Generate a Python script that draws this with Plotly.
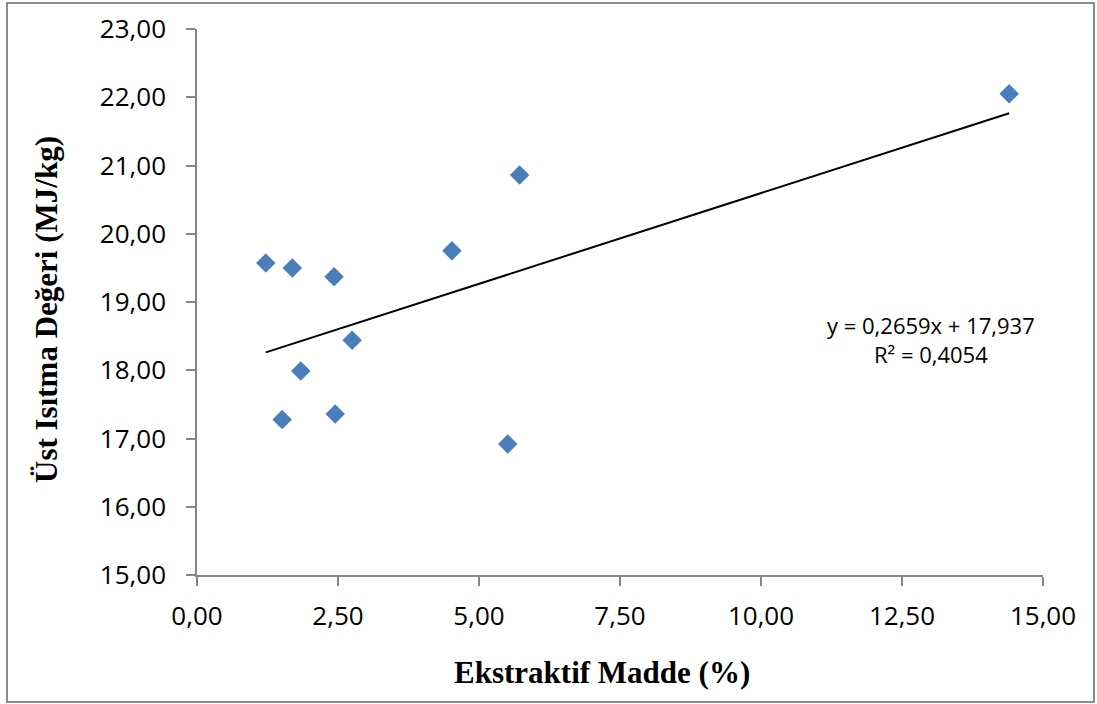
import plotly.graph_objects as go

# Data
ekstraktif = [1.22, 1.69, 2.43, 2.75, 1.84, 1.51, 2.45, 5.72, 4.52, 5.51, 14.40]
ust_isitma = [19.57, 19.50, 19.37, 18.44, 17.99, 17.28, 17.36, 20.86, 19.75, 16.92, 22.05]
trend_slope = 0.2659
trend_intercept = 17.937
r_squared = 0.4054
x_ticks = [0, 2.5, 5, 7.5, 10, 12.5, 15]
y_ticks = [15, 16, 17, 18, 19, 20, 21, 22, 23]

x_min, x_max = min(ekstraktif), max(ekstraktif)
trend_x = [x_min, x_max]
trend_y = [trend_slope * v + trend_intercept for v in trend_x]

fig = go.Figure()
fig.add_trace(go.Scatter(
    x=trend_x, y=trend_y, mode="lines",
    line=dict(color="black", width=2), hoverinfo="skip", showlegend=False))
fig.add_trace(go.Scatter(
    x=ekstraktif, y=ust_isitma, mode="markers",
    marker=dict(symbol="diamond", size=15, color="#4A7EBB",
                line=dict(width=0)),
    showlegend=False))

tick_font = dict(family="Open Sans, Noto Sans, sans-serif", size=26, color="black")
title_font = dict(family="Liberation Serif, Times New Roman, serif", size=31, color="black")

PW, PH = 846, 546  # plot area size in px

fig.update_layout(
    width=1097, height=704,
    margin=dict(l=197, r=54, t=29, b=129, autoexpand=False),
    paper_bgcolor="white", plot_bgcolor="white",
    separators=", ",
    xaxis=dict(range=[0, 15], tickvals=x_ticks, tickformat=".2f",
               showgrid=False, zeroline=False, showline=True,
               linecolor="#868686", linewidth=1.5, ticks="outside",
               ticklen=9, tickcolor="#868686", tickwidth=1.5,
               ticklabelstandoff=8, tickfont=tick_font),
    yaxis=dict(range=[15, 23], tickvals=y_ticks, tickformat=".2f",
               showgrid=False, zeroline=False, showline=True,
               linecolor="#868686", linewidth=1.5, ticks="outside",
               ticklen=9, tickcolor="#868686", tickwidth=1.5,
               ticklabelstandoff=15, tickfont=tick_font),
    shapes=[dict(type="rect", xref="paper", yref="paper",
                 x0=-190/PW, x1=1+51/PW, y0=-127/PH, y1=1+26/PH,
                 line=dict(color="#8c8c8c", width=2))],
    annotations=[
        dict(text="<b>Ekstraktif Madde (%)</b>", xref="paper", yref="paper",
             x=(602-197)/PW, y=-(672-575)/PH, showarrow=False,
             xanchor="center", yanchor="middle", font=title_font),
        dict(text="<b>Üst Isıtma Değeri (MJ/kg)</b>", xref="paper", yref="paper",
             x=-(197-46)/PW, y=(575-310)/PH, showarrow=False, textangle=-90,
             xanchor="center", yanchor="middle", font=title_font),
        dict(text=f"y = {str(trend_slope).replace('.', ',')}x + {str(trend_intercept).replace('.', ',')}<br>R² = {str(r_squared).replace('.', ',')}",
             xref="paper", yref="paper", x=(931-197)/PW, y=(575-339)/PH,
             showarrow=False, xanchor="center", yanchor="middle", align="center",
             font=dict(family="Open Sans, Noto Sans, sans-serif", size=22, color="black")),
    ],
)

fig.write_html("out.html")
